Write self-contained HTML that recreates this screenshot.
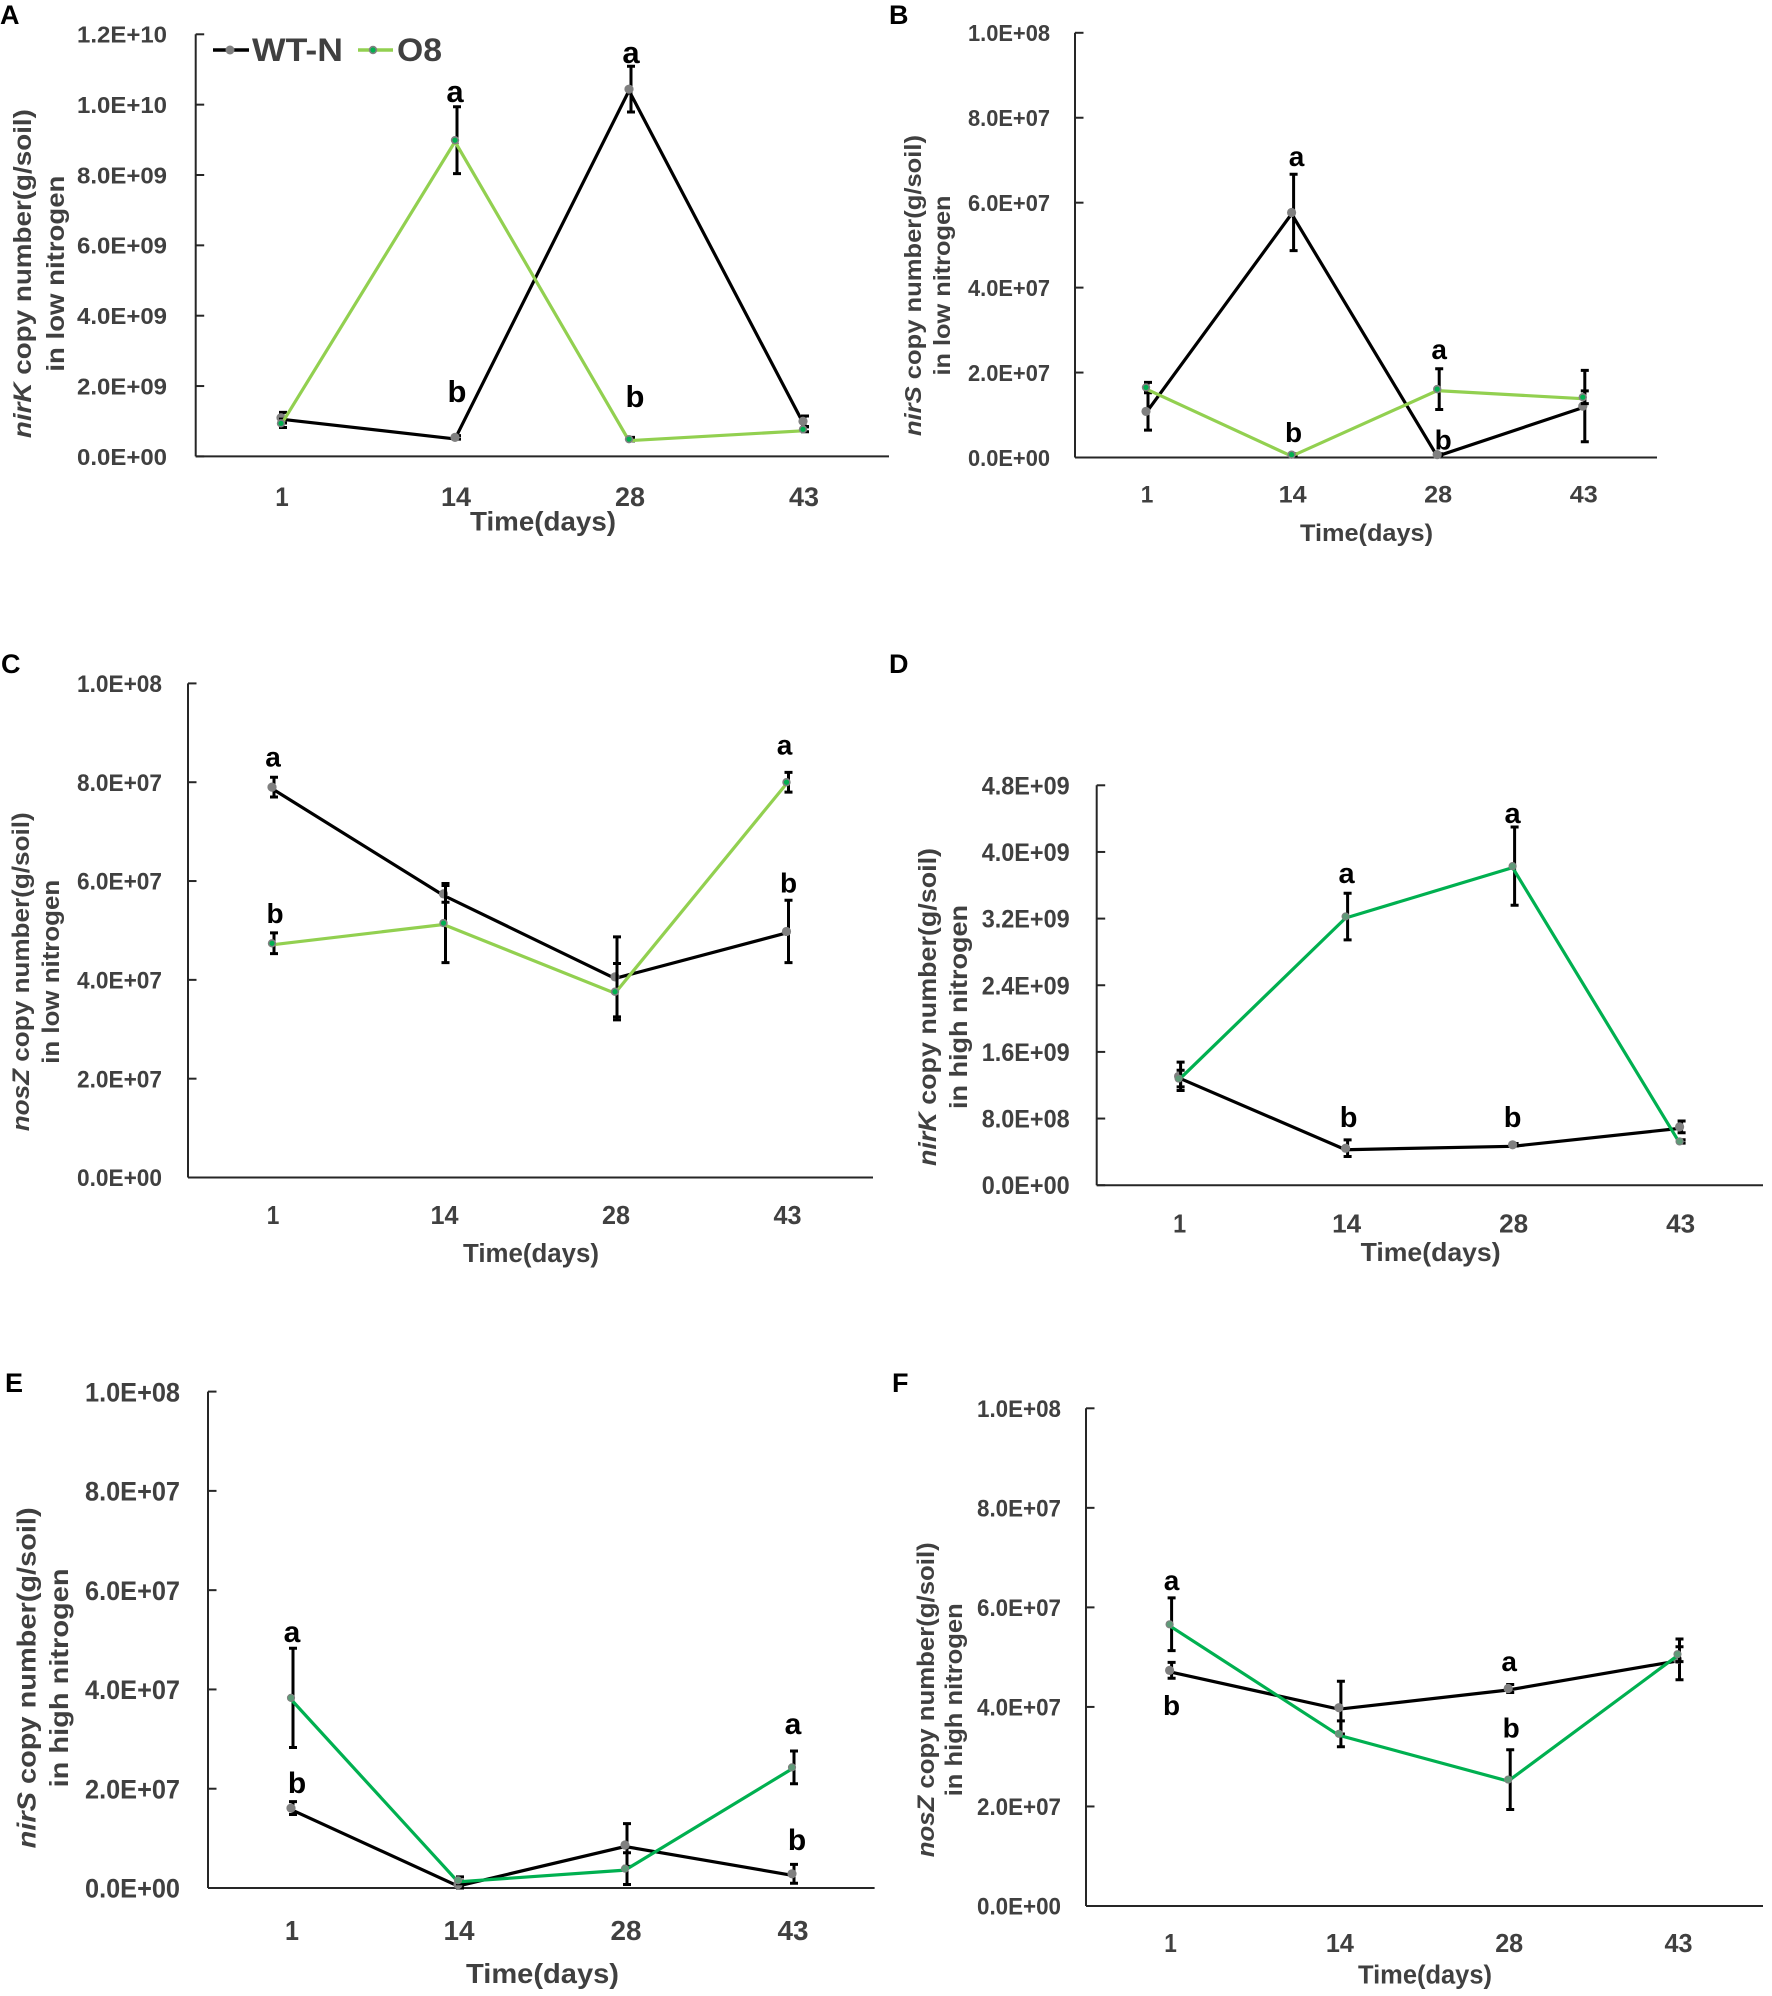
<!DOCTYPE html>
<html lang="en">
<head>
<meta charset="utf-8">
<title>Copy numbers of nirK, nirS and nosZ over time</title>
<style>
html,body{margin:0;padding:0;background:#fff;}
svg{display:block;}
text{font-family:"Liberation Sans",Arial,sans-serif;font-weight:bold;}
</style>
</head>
<body>
<svg id="figure" xmlns="http://www.w3.org/2000/svg" width="1772" height="1996" viewBox="0 0 1772 1996">
  <rect x="0" y="0" width="1772" height="1996" fill="#fff"/>
  <g>
    <g>
      <line x1="213" y1="50" x2="249" y2="50" stroke="#000" stroke-width="3.5"/>
      <circle cx="230" cy="50" r="4.5" fill="#808080"/>
      <text x="252" y="61" font-size="32" fill="#404040" textLength="91" lengthAdjust="spacingAndGlyphs">WT-N</text>
    </g>
    <g>
      <line x1="358" y1="50" x2="393" y2="50" stroke="#92d050" stroke-width="3.5"/>
      <circle cx="373" cy="50" r="3.4" fill="#00b050" stroke="#808080" stroke-width="1.6"/>
      <text x="397" y="61" font-size="32" fill="#404040" textLength="45" lengthAdjust="spacingAndGlyphs">O8</text>
    </g>
  </g>
</svg>
<script>
// Shared category labels
const categories = ['1', '14', '28', '43'];

// Panel A: nirK, low nitrogen
const panelA_ticks = ['0.0E+00', '2.0E+09', '4.0E+09', '6.0E+09', '8.0E+09', '1.0E+10', '1.2E+10'];
const panelA_wt = [1.10e9, 5.4e8, 1.044e10, 1.0e9];
const panelA_wtErr = [1.5e8, 5e7, 6.5e8, 1.5e8];
const panelA_o8 = [9.4e8, 8.99e9, 4.9e8, 7.7e8];
const panelA_o8Err = [1.2e8, 9.5e8, 5e7, 7e7];
const panelA_letters = ['a', 'b', 'a', 'b'];
const panelA_letterCats = [1, 1, 2, 2];
const panelA_letterVals = [1.008e10, 1.553e9, 1.118e10, 1.4e9];

// Panel B: nirS, low nitrogen
const panelB_ticks = ['0.0E+00', '2.0E+07', '4.0E+07', '6.0E+07', '8.0E+07', '1.0E+08'];
const panelB_wt = [1.085e7, 5.77e7, 6.7e5, 1.21e7];
const panelB_wtErr = [4.4e6, 9e6, 2e5, 8.4e6];
const panelB_o8 = [1.65e7, 6.7e5, 1.61e7, 1.42e7];
const panelB_o8Err = [1.2e6, 2e5, 4.8e6, 1.5e6];
const panelB_letters = ['a', 'b', 'a', 'b'];
const panelB_letterCats = [1, 1, 2, 2];
const panelB_letterVals = [6.86e7, 3.6e6, 2.32e7, 1.9e6];

// Panel C: nosZ, low nitrogen
const panelC_ticks = ['0.0E+00', '2.0E+07', '4.0E+07', '6.0E+07', '8.0E+07', '1.0E+08'];
const panelC_wt = [7.9e7, 5.74e7, 4.06e7, 4.98e7];
const panelC_wtErr = [2e6, 1.7e6, 8.1e6, 6.3e6];
const panelC_o8 = [4.74e7, 5.15e7, 3.76e7, 8.0e7];
const panelC_o8Err = [2.1e6, 8e6, 5.7e6, 2e6];
const panelC_letters = ['a', 'b', 'a', 'b'];
const panelC_letterCats = [0, 0, 3, 3];
const panelC_letterVals = [8.32e7, 5.15e7, 8.56e7, 5.77e7];

// Panel D: nirK, high nitrogen
const panelD_ticks = ['0.0E+00', '8.0E+08', '1.6E+09', '2.4E+09', '3.2E+09', '4.0E+09', '4.8E+09'];
const panelD_wt = [1.307e9, 4.44e8, 4.85e8, 7.0e8];
const panelD_wtErr = [1.7e8, 1e8, 1.5e7, 7e7];
const panelD_o8 = [1.28e9, 3.225e9, 3.83e9, 5.25e8];
const panelD_o8Err = [1e8, 2.8e8, 4.7e8, 2e7];
const panelD_letters = ['a', 'b', 'a', 'b'];
const panelD_letterCats = [1, 1, 2, 2];
const panelD_letterVals = [3.63e9, 7.0e8, 4.35e9, 7.0e8];

// Panel E: nirS, high nitrogen
const panelE_ticks = ['0.0E+00', '2.0E+07', '4.0E+07', '6.0E+07', '8.0E+07', '1.0E+08'];
const panelE_wt = [1.61e7, 7e5, 8.66e6, 2.86e6];
const panelE_wtErr = [1.3e6, 7e5, 4.3e6, 1.9e6];
const panelE_o8 = [3.83e7, 1.55e6, 3.9e6, 2.43e7];
const panelE_o8Err = [1.0e7, 7e5, 3.2e6, 3.3e6];
const panelE_letters = ['a', 'b', 'a', 'b'];
const panelE_letterCats = [0, 0, 3, 3];
const panelE_letterVals = [4.96e7, 1.91e7, 3.1e7, 7.7e6];

// Panel F: nosZ, high nitrogen
const panelF_ticks = ['0.0E+00', '2.0E+07', '4.0E+07', '6.0E+07', '8.0E+07', '1.0E+08'];
const panelF_wt = [4.735e7, 3.985e7, 4.37e7, 4.955e7];
const panelF_wtErr = [1.6e6, 5.3e6, 8e5, 4.1e6];
const panelF_o8 = [5.66e7, 3.46e7, 2.54e7, 5.06e7];
const panelF_o8Err = [5.3e6, 2.6e6, 6e6, 1.5e6];
const panelF_letters = ['a', 'b', 'a', 'b'];
const panelF_letterCats = [0, 0, 2, 2];
const panelF_letterVals = [6.35e7, 3.84e7, 4.72e7, 3.39e7];

const NS = 'http://www.w3.org/2000/svg';
const svg = document.getElementById('figure');

function mk(parent, tag, attrs, content) {
  const node = document.createElementNS(NS, tag);
  for (const k in attrs) node.setAttribute(k, attrs[k]);
  if (content !== undefined) node.textContent = content;
  parent.appendChild(node);
  return node;
}

const panels = [
  {key:'a', letter:'A', lx:0, ly:24, lfs:27,
   left:195.7, right:889, top:34.3, bottom:456.4, c0:281, band:174,
   ticks:panelA_ticks, wt:panelA_wt, wtErr:panelA_wtErr, o8:panelA_o8, o8Err:panelA_o8Err,
   letters:panelA_letters, letterCats:panelA_letterCats, letterVals:panelA_letterVals, letterFs:31,
   letterNudge:[0, 2, 2, 6],
   o8Color:'#92d050', o8Fill:'#00b050', o8Ring:3.4, o8RingW:1.6,
   tickFs:23.3, tickW:90, tickGap:28.7, catY:506, catFs:27, catW:30,
   timeX:470, timeW:146, timeY:530.5, timeFs:26.5,
   gene:'nirK', rest:' copy number(g/soil)', line2:'in low nitrogen',
   t1x:31, t2x:64, tc:273.6, t1len:329, t2len:196, tfs:25},
  {key:'b', letter:'B', lx:889, ly:24, lfs:27,
   left:1075, right:1657, top:32.8, bottom:457.5, c0:1146, band:145.6,
   ticks:panelB_ticks, wt:panelB_wt, wtErr:panelB_wtErr, o8:panelB_o8, o8Err:panelB_o8Err,
   letters:panelB_letters, letterCats:panelB_letterCats, letterVals:panelB_letterVals, letterFs:28,
   letterNudge:[5, 2, 2, 6],
   o8Color:'#92d050', o8Fill:'#00b050', o8Ring:3.4, o8RingW:1.6,
   tickFs:23, tickW:82, tickGap:25, catY:502.4, catFs:24, catW:28,
   timeX:1300, timeW:133, timeY:541.2, timeFs:24.5,
   gene:'nirS', rest:' copy number(g/soil)', line2:'in low nitrogen',
   t1x:921, t2x:950, tc:285.5, t1len:301, t2len:180, tfs:23},
  {key:'c', letter:'C', lx:1, ly:673, lfs:27,
   left:188, right:873, top:683.4, bottom:1177.5, c0:272, band:171.5,
   ticks:panelC_ticks, wt:panelC_wt, wtErr:panelC_wtErr, o8:panelC_o8, o8Err:panelC_o8Err,
   letters:panelC_letters, letterCats:panelC_letterCats, letterVals:panelC_letterVals, letterFs:28,
   letterNudge:[1, 3, -2, 2],
   o8Color:'#92d050', o8Fill:'#00b050', o8Ring:3.4, o8RingW:1.6,
   tickFs:24, tickW:85, tickGap:26, catY:1224, catFs:26, catW:28,
   timeX:463, timeW:136, timeY:1261.8, timeFs:25.5,
   gene:'nosZ', rest:' copy number(g/soil)', line2:'in low nitrogen',
   t1x:29, t2x:59, tc:971.8, t1len:319, t2len:184, tfs:24},
  {key:'d', letter:'D', lx:889, ly:673, lfs:27,
   left:1096.7, right:1763, top:785.3, bottom:1185.2, c0:1178.6, band:167,
   ticks:panelD_ticks, wt:panelD_wt, wtErr:panelD_wtErr, o8:panelD_o8, o8Err:panelD_o8Err,
   letters:panelD_letters, letterCats:panelD_letterCats, letterVals:panelD_letterVals, letterFs:29,
   letterNudge:[1, 3, 0, 0],
   o8Color:'#00b050', o8Fill:'#5f9a78', o8Ring:3.6, o8RingW:1,
   tickFs:25, tickW:88, tickGap:27, catY:1232.6, catFs:26, catW:29,
   timeX:1360.6, timeW:140, timeY:1260.8, timeFs:26,
   gene:'nirK', rest:' copy number(g/soil)', line2:'in high nitrogen',
   t1x:936, t2x:967, tc:1007, t1len:318, t2len:204, tfs:25},
  {key:'e', letter:'E', lx:5, ly:1392, lfs:27,
   left:208, right:874.6, top:1391.6, bottom:1888, c0:291, band:167,
   ticks:panelE_ticks, wt:panelE_wt, wtErr:panelE_wtErr, o8:panelE_o8, o8Err:panelE_o8Err,
   letters:panelE_letters, letterCats:panelE_letterCats, letterVals:panelE_letterVals, letterFs:30,
   letterNudge:[1, 6, 1, 5],
   o8Color:'#00b050', o8Fill:'#5f9a78', o8Ring:3.6, o8RingW:1,
   tickFs:27, tickW:95, tickGap:28, catY:1940, catFs:28, catW:31,
   timeX:466, timeW:153, timeY:1982.8, timeFs:27.5,
   gene:'nirS', rest:' copy number(g/soil)', line2:'in high nitrogen',
   t1x:35.6, t2x:68, tc:1677.9, t1len:341, t2len:219, tfs:26},
  {key:'f', letter:'F', lx:892, ly:1392, lfs:27,
   left:1086, right:1763, top:1408.3, bottom:1906, c0:1169.6, band:169.3,
   ticks:panelF_ticks, wt:panelF_wt, wtErr:panelF_wtErr, o8:panelF_o8, o8Err:panelF_o8Err,
   letters:panelF_letters, letterCats:panelF_letterCats, letterVals:panelF_letterVals, letterFs:28,
   letterNudge:[2, 2, 1, 3],
   o8Color:'#00b050', o8Fill:'#5f9a78', o8Ring:3.6, o8RingW:1,
   tickFs:24, tickW:84, tickGap:25, catY:1952, catFs:26, catW:28,
   timeX:1358, timeW:134, timeY:1983.4, timeFs:25.5,
   gene:'nosZ', rest:' copy number(g/soil)', line2:'in high nitrogen',
   t1x:934, t2x:962, tc:1699.8, t1len:315, t2len:193, tfs:24}
];

function drawSeries(g, values, errs, color, x, y, isWT) {
  const series = mk(g, 'g', {});
  
  
  const errDx = 2;
  values.forEach((v, i) => {
    const ex = x(i) + errDx;
    const bar = mk(series, 'path', {
      d: 'M' + ex + ' ' + y(v + errs[i]) + 'V' + y(v - errs[i]) +
         'M' + (ex - 4) + ' ' + y(v + errs[i]) + 'H' + (ex + 4) +
         'M' + (ex - 4) + ' ' + y(v - errs[i]) + 'H' + (ex + 4),
      fill: 'none', stroke: '#000', 'stroke-width': 3
    });
    
    
  });
  const lineDy = 1.5;
  const pts = values.map((v, i) => x(i) + ',' + (y(v) + lineDy)).join(' ');
  const line = mk(series, 'polyline', {points: pts, fill: 'none', stroke: color, 'stroke-width': 3.2, 'stroke-linejoin': 'miter'});
  
  
  return series;
}

function drawMarkers(series, values, x, y, isWT, p) {
  values.forEach((v, i) => {
    const dot = mk(series, 'circle', isWT
      ? {cx: x(i), cy: y(v), r: 4.6, fill: '#808080'}
      : {cx: x(i), cy: y(v), r: p.o8Ring, fill: p.o8Fill, stroke: '#808080', 'stroke-width': p.o8RingW});
    
    
  });
}

panels.forEach(p => {
  const g = mk(svg, 'g', {});
  
  

  const yMax = parseFloat(p.ticks[p.ticks.length - 1]);
  const y = v => p.bottom - (v / yMax) * (p.bottom - p.top);
  const x = i => p.c0 + i * p.band;

  const panelLabel = mk(g, 'text', {x: p.lx, y: p.ly, 'font-size': p.lfs, fill: '#000'}, p.letter);
  
  

  const yAxis = mk(g, 'line', {x1: p.left, y1: p.top, x2: p.left, y2: p.bottom, stroke: '#262626', 'stroke-width': 2});
  
  
  const xAxis = mk(g, 'line', {x1: p.left, y1: p.bottom, x2: p.right, y2: p.bottom, stroke: '#262626', 'stroke-width': 2});
  
  

  p.ticks.forEach(t => {
    const ty = y(parseFloat(t));
    const tick = mk(g, 'line', {x1: p.left, y1: ty, x2: p.left + 8.5, y2: ty, stroke: '#262626', 'stroke-width': 2});
    
    
    const label = mk(g, 'text', {
      x: p.left - p.tickGap - p.tickW, y: ty + p.tickFs * 0.36, 'font-size': p.tickFs, fill: '#404040',
      textLength: p.tickW, lengthAdjust: 'spacingAndGlyphs'
    }, t);
    
    
  });

  categories.forEach((c, i) => {
    const w = c.length === 1 ? p.catW * 0.45 : p.catW;
    const label = mk(g, 'text', {
      x: x(i) + 1 - w / 2, y: p.catY, 'font-size': p.catFs, fill: '#404040',
      textLength: w, lengthAdjust: 'spacingAndGlyphs'
    }, c);
    
    
  });

  const xTitle = mk(g, 'text', {
    x: p.timeX, y: p.timeY, 'font-size': p.timeFs, fill: '#404040',
    textLength: p.timeW, lengthAdjust: 'spacingAndGlyphs'
  }, 'Time(days)');
  
  

  const title1 = mk(g, 'text', {
    x: p.t1x, y: p.tc, transform: 'rotate(-90 ' + p.t1x + ' ' + p.tc + ')', 'text-anchor': 'middle',
    'font-size': p.tfs, fill: '#404040', textLength: p.t1len, lengthAdjust: 'spacingAndGlyphs'
  });
  
  
  const geneSpan = mk(title1, 'tspan', {'font-style': 'italic'}, p.gene);
  
  
  title1.appendChild(document.createTextNode(p.rest));

  const title2 = mk(g, 'text', {
    x: p.t2x, y: p.tc, transform: 'rotate(-90 ' + p.t2x + ' ' + p.tc + ')', 'text-anchor': 'middle',
    'font-size': p.tfs, fill: '#404040', textLength: p.t2len, lengthAdjust: 'spacingAndGlyphs'
  }, p.line2);
  
  

  const wtSeries = drawSeries(g, p.wt, p.wtErr, '#000', x, y, true);
  const o8Series = drawSeries(g, p.o8, p.o8Err, p.o8Color, x, y, false);
  drawMarkers(wtSeries, p.wt, x, y, true, p);
  drawMarkers(o8Series, p.o8, x, y, false, p);

  p.letters.forEach((l, i) => {
    const note = mk(g, 'text', {
      x: x(p.letterCats[i]) + p.letterNudge[i], y: y(p.letterVals[i]), 'text-anchor': 'middle',
      'font-size': p.letterFs, fill: '#000'
    }, l);
    
    
  });
});
</script>
</body>
</html>
